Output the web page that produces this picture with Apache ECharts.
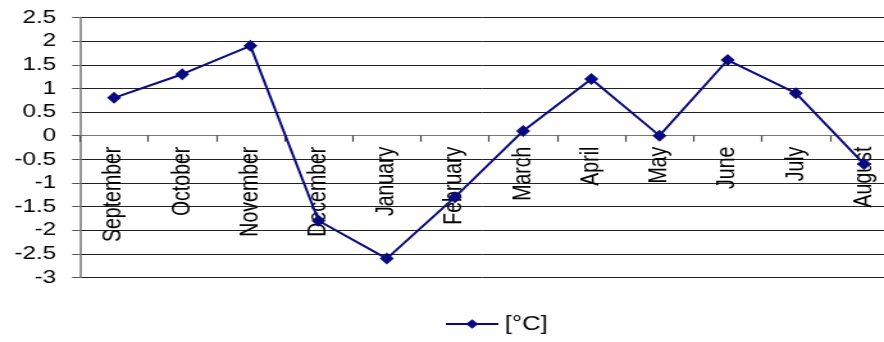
<!DOCTYPE html>
<html>
<head>
<meta charset="utf-8">
<script src="https://cdn.jsdelivr.net/npm/echarts@6/dist/echarts.min.js"></script>
<style>
  html, body { margin: 0; padding: 0; background: #fff; overflow: hidden; }
  #wrap { width: 884px; height: 342px; overflow: hidden; }
  /* the chart is laid out narrow and widened horizontally to the page width */
  #chart { width: 690px; height: 342px; transform: scaleX(1.2812); transform-origin: 0 0; }
</style>
</head>
<body>
<div id="wrap"><div id="chart"></div></div>
<script>
// Monthly temperature deviation, September to August
const months = ['September', 'October', 'November', 'December', 'January', 'February',
                'March', 'April', 'May', 'June', 'July', 'August'];
const deviation = [0.8, 1.3, 1.9, -1.8, -2.6, -1.3, 0.1, 1.2, 0.0, 1.6, 0.9, -0.6];
const seriesName = '[°C]';
const yMin = -3, yMax = 2.5, yStep = 0.5;

const gridTop = 17.5, gridBottom = 64.5, chartHeight = 342;
// pixel distance from the bottom of the plot up to the zero line
const plotHeight = chartHeight - gridTop - gridBottom;
const zeroLift = plotHeight * (0 - yMin) / (yMax - yMin);

const chart = echarts.init(document.getElementById('chart'), null, { renderer: 'canvas' });
const font = '"Liberation Sans", Arial, sans-serif';

chart.setOption({
  animation: false,
  backgroundColor: '#ffffff',
  grid: {
    left: 62.4, right: -11, top: gridTop, bottom: gridBottom,
    containLabel: false,
    outerBoundsMode: 'none'
  },
  legend: {
    bottom: 3,
    left: 342,
    itemWidth: 41,
    itemHeight: 12,
    itemGap: 8,
    textStyle: { fontFamily: font, fontSize: 20, color: '#000' },
    data: [seriesName]
  },
  xAxis: {
    type: 'category',
    data: months,
    boundaryGap: true,
    position: 'bottom',
    offset: -zeroLift,
    axisLine: { onZero: false, lineStyle: { color: '#777', width: 1 } },
    axisTick: { show: true, length: 6, lineStyle: { color: '#444', width: 1.2 } },
    axisLabel: {
      interval: 0,
      rotate: 90,
      margin: 11,
      fontFamily: font,
      fontSize: 19.5,
      color: '#000'
    },
    splitLine: { show: false }
  },
  yAxis: {
    type: 'value',
    min: yMin,
    max: yMax,
    interval: yStep,
    axisLine: { show: true, lineStyle: { color: '#777', width: 1.5 } },
    axisTick: { show: true, length: 6.2, lineStyle: { color: '#555' } },
    axisLabel: {
      margin: 18.5,
      showMinLabel: true,
      showMaxLabel: true,
      fontFamily: font,
      fontSize: 19,
      color: '#000'
    },
    splitLine: { show: true, lineStyle: { color: '#222', width: 1 } }
  },
  series: [{
    name: seriesName,
    type: 'line',
    data: deviation,
    symbol: 'diamond',
    symbolSize: [11, 12],
    lineStyle: { color: '#0a0a80', width: 2 },
    itemStyle: { color: '#0a0a80' }
  }]
});
</script>
</body>
</html>
